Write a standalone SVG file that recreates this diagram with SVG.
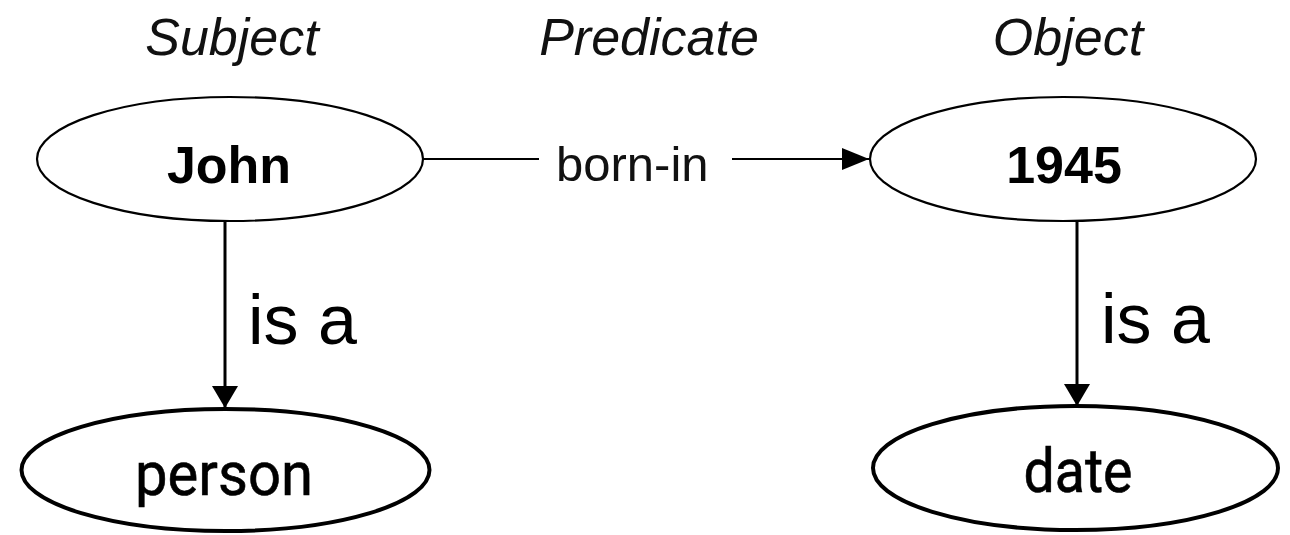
<svg xmlns="http://www.w3.org/2000/svg" width="1290" height="535" viewBox="0 0 1290 535">
<defs>
<marker id="ahh" markerUnits="userSpaceOnUse" markerWidth="28" markerHeight="24" refX="27" refY="12" orient="auto">
<path d="M0,1 L27,12 L0,23 Z" fill="#000"/>
</marker>
<marker id="ahv" markerUnits="userSpaceOnUse" markerWidth="24" markerHeight="28" refX="22" refY="13" orient="auto">
<path d="M0,0 L22,13 L0,26 Z" fill="#000"/>
</marker>
</defs>
<style>
.hdr{font-family:"Liberation Sans",Arial,sans-serif;font-style:italic;font-size:52px;fill:#111;text-anchor:middle}
.thin{fill:#fff;stroke:#000;stroke-width:2.2}
.thick{fill:#fff;stroke:#000;stroke-width:4}
.bold{font-family:"Liberation Sans",Arial,sans-serif;font-weight:bold;font-size:52px;text-anchor:middle;fill:#000}
.lbl{font-family:"Liberation Sans",Arial,sans-serif;font-size:49px;fill:#111}
.isa{font-family:"Liberation Sans",Arial,sans-serif;font-size:70px;fill:#000}
.din{font-family:"Roboto","DejaVu Sans",sans-serif;font-weight:400;font-size:61px;text-anchor:middle;fill:#000;stroke:#000;stroke-width:0.6}
.ln{stroke:#000;fill:none}
</style>
<g id="headers">
<text class="hdr" x="232" y="55">Subject</text>
<text class="hdr" x="649" y="55">Predicate</text>
<text class="hdr" x="1068" y="55">Object</text>
</g>
<g id="connectors">
<line class="ln" stroke-width="2.2" x1="423" y1="159" x2="539" y2="159"/>
<text class="lbl" x="556" y="181">born-in</text>
<line class="ln" stroke-width="2.2" x1="732" y1="159" x2="869" y2="159" marker-end="url(#ahh)"/>
<line class="ln" stroke-width="3" x1="225" y1="221" x2="225" y2="408" marker-end="url(#ahv)"/>
<text class="isa" x="248" y="344">is a</text>
<line class="ln" stroke-width="3" x1="1077" y1="221" x2="1077" y2="406" marker-end="url(#ahv)"/>
<text class="isa" x="1101" y="343">is a</text>
</g>
<g id="john">
<ellipse class="thin" cx="230" cy="159" rx="193" ry="62"/>
<text class="bold" x="229" y="183">John</text>
</g>
<g id="y1945">
<ellipse class="thin" cx="1063" cy="159" rx="193" ry="62"/>
<text class="bold" x="1064" y="183">1945</text>
</g>
<g id="person">
<ellipse class="thick" cx="225.5" cy="470" rx="204" ry="61"/>
<text class="din" x="224" y="495" textLength="178" lengthAdjust="spacingAndGlyphs">person</text>
</g>
<g id="date">
<ellipse class="thick" cx="1075.5" cy="468" rx="202.5" ry="62"/>
<text class="din" x="1078" y="492" textLength="109" lengthAdjust="spacingAndGlyphs">date</text>
</g>
</svg>
